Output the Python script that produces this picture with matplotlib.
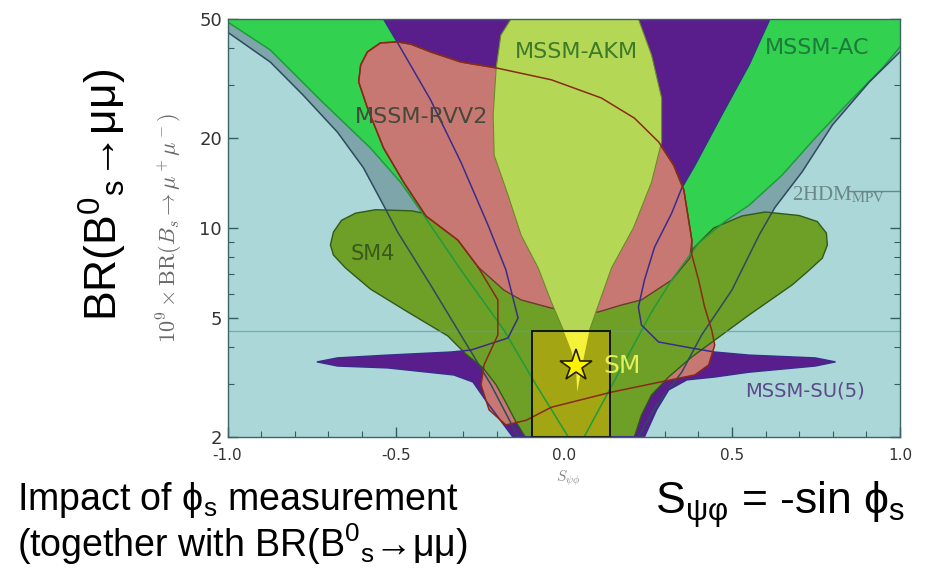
"""Bs -> mu mu vs S_psiphi model regions (Straub-style plot)"""
import matplotlib.pyplot as plt
from matplotlib.patches import Rectangle

plt.rcParams['mathtext.fontset'] = 'custom'
plt.rcParams['mathtext.rm'] = 'Liberation Sans'
plt.rcParams['mathtext.it'] = 'Liberation Sans:italic'
plt.rcParams['mathtext.bf'] = 'Liberation Sans:bold'

# ---- data: region boundaries (S_psiphi, 1e9 x BR) ----
# 2HDM_MPV outer curves
hdm_left_s = [-1.0, -0.873, -0.775, -0.673, -0.596, -0.536, -0.494, -0.396, -0.306, -0.216, -0.136]
hdm_left_br = [45.2, 35.9, 27.8, 20.9, 15.9, 11.9, 9.68, 6.44, 4.38, 2.98, 2.0]
hdm_right_s = [0.222, 0.276, 0.351, 0.410, 0.500, 0.581, 0.628, 0.709, 0.799, 0.909, 1.0]
hdm_right_br = [2.0, 2.55, 3.29, 4.38, 6.19, 9.46, 11.7, 15.4, 22.1, 30.8, 38.8]

# MSSM-AC edges
ac_left_s = [-1.0, -0.873, -0.724, -0.575, -0.485, -0.416, -0.306, -0.178, -0.082, 0.013]
ac_left_br = [48.9, 39.4, 26.8, 18.5, 14.2, 11.0, 7.23, 4.55, 2.98, 2.0]
ac_right_s = [0.061, 0.160, 0.261, 0.321, 0.401, 0.479, 0.551, 0.649, 0.748, 0.849, 0.948, 1.0]
ac_right_br = [2.0, 3.22, 5.23, 6.69, 8.90, 10.5, 11.9, 15.0, 20.0, 26.4, 34.3, 40.3]

# MSSM-SU(5) (V plus horizontal spike)
su5_s = [-0.536, -0.494, -0.396, -0.306, -0.225, -0.172, -0.148, -0.136, -0.166, -0.276, -0.336,
         -0.524, -0.673, -0.733, -0.673, -0.524, -0.327, -0.270, -0.222, -0.178, -0.152,
         0.240, 0.276, 0.312, 0.366, 0.449, 0.551, 0.748, 0.807, 0.748, 0.551, 0.449, 0.381,
         0.282, 0.231, 0.222, 0.240, 0.270, 0.321, 0.351, 0.390, 0.470, 0.551, 0.613]
su5_br = [50, 41.6, 26.8, 16.6, 10.2, 7.23, 5.65, 4.99, 4.28, 3.90, 3.84,
          3.75, 3.67, 3.56, 3.45, 3.40, 3.22, 3.05, 2.55, 2.19, 2.0,
          2.0, 2.46, 2.87, 3.10, 3.17, 3.29, 3.45, 3.56, 3.67, 3.75, 3.84, 3.96,
          4.15, 4.73, 5.43, 6.69, 8.62, 11.2, 13.6, 16.2, 23.9, 35.1, 50]

# MSSM-RVV2 outer contour and filled core
rvv2_out_s = [-0.255, -0.196, -0.196, -0.237, -0.246, -0.222, -0.172, -0.112, -0.037, 0.142,
              0.318, 0.390, 0.431, 0.449, 0.440, 0.419, 0.401, 0.381, 0.381, 0.357, 0.327,
              0.282, 0.210, 0.112, -0.037, -0.201, -0.306, -0.396, -0.455, -0.494, -0.545,
              -0.584, -0.604, -0.610, -0.584, -0.536, -0.476, -0.410, -0.315]
rvv2_out_br = [7.40, 5.74, 4.38, 3.48, 2.98, 2.46, 2.19, 2.27, 2.51, 2.82,
               3.10, 3.22, 3.48, 4.05, 4.55, 5.43, 6.69, 8.11, 9.10, 13.4, 16.2,
               19.4, 23.3, 27.2, 31.3, 34.3, 35.9, 38.8, 41.2, 41.9, 41.6,
               38.8, 35.1, 30.8, 25.2, 18.5, 14.2, 10.96, 9.10]
rvv2_s = [-0.494, -0.545, -0.584, -0.604, -0.610, -0.584, -0.536, -0.476, -0.410, -0.315,
          -0.255, -0.178, -0.127, -0.037, 0.037, 0.103, 0.172, 0.231, 0.321, 0.375, 0.381,
          0.357, 0.327, 0.282, 0.210, 0.112, -0.037, -0.201, -0.306, -0.396, -0.455]
rvv2_br = [41.9, 41.6, 38.8, 35.1, 30.8, 25.2, 18.5, 14.2, 10.96, 9.10,
           7.40, 6.19, 5.74, 5.39, 5.23, 5.23, 5.52, 5.74, 6.69, 7.92, 9.10,
           13.4, 16.2, 19.4, 23.3, 27.2, 31.3, 34.3, 35.9, 38.8, 41.2]

# SM4 (two lobes joined at the bottom)
sm4_s = [-0.694, -0.685, -0.661, -0.619, -0.560, -0.452, -0.366, -0.291, -0.246, -0.037, 0.172,
         0.381, 0.401, 0.446, 0.530, 0.599, 0.700, 0.754, 0.781, 0.784, 0.769, 0.724, 0.679,
         0.551, 0.449, 0.381, 0.312, 0.261, 0.231, 0.210, -0.115, -0.142, -0.172, -0.201,
         -0.240, -0.291, -0.345, -0.464, -0.575, -0.649, -0.685]
sm4_br = [8.76, 9.68, 10.6, 11.2, 11.5, 11.4, 10.9, 9.99, 8.76, 7.68, 7.68,
          8.43, 8.90, 9.99, 10.96, 11.3, 11.0, 10.5, 9.61, 8.76, 7.92, 7.12, 6.44,
          5.11, 4.21, 3.70, 3.17, 2.76, 2.36, 2.0, 2.0, 2.24, 2.60, 2.98,
          3.40, 3.78, 4.35, 5.23, 6.24, 7.34, 8.11]

# MSSM-AKM
akm_s = [-0.157, -0.187, -0.201, -0.210, -0.207, -0.166, -0.127, -0.076, -0.037, 0.001, 0.022,
         0.037, 0.040, 0.052, 0.076, 0.103, 0.142, 0.207, 0.261, 0.291, 0.291, 0.261, 0.222]
akm_br = [50, 44.2, 34.3, 23.9, 17.5, 12.9, 9.46, 7.34, 5.65, 4.48, 3.90,
          3.34, 2.82, 3.34, 4.52, 5.52, 7.34, 9.99, 14.2, 19.4, 27.2, 37.9, 50]

# measurement box, experimental bound and SM point
box_s = [-0.094, 0.139]
box_br = [2.0, 4.5]
br_limit = 4.5
sm_point = (0.037, 3.45)

xticks = [-1.0, -0.5, 0.0, 0.5, 1.0]
xticklabels = ['-1.0', '-0.5', '0.0', '0.5', '1.0']
xminor = [-0.9, -0.8, -0.7, -0.6, -0.4, -0.3, -0.2, -0.1, 0.1, 0.2, 0.3, 0.4, 0.6, 0.7, 0.8, 0.9]
yticks = [2, 5, 10, 20, 50]
yticklabels = ['2', '5', '10', '20', '50']
yminor = [3, 4, 6, 7, 8, 9, 30, 40]

fig = plt.figure(figsize=(9.34, 5.83), dpi=100)
ax = fig.add_axes([0.2436, 0.2509, 0.72, 0.7165])
ax.set_facecolor('#acd7d8')
ax.set_yscale('log')
ax.set_xlim(-1, 1)
ax.set_ylim(2, 50)

# filled regions, bottom to top
ax.fill(hdm_left_s + hdm_right_s + [1.0, -1.0], hdm_left_br + hdm_right_br + [50, 50],
        color='#7da5aa', lw=0, zorder=2)
ax.fill([-1.0] + ac_left_s + ac_right_s + [1.0], [50] + ac_left_br + ac_right_br + [50],
        color='#32d250', lw=0, zorder=3)
ax.fill(su5_s, su5_br, color='#5a1e8c', lw=0, zorder=4)
ax.fill(rvv2_out_s, rvv2_out_br, color='#c87873', lw=0, zorder=5)
ax.fill(sm4_s, sm4_br, facecolor='#6ea028', edgecolor='#2f5a1a', lw=1.0, zorder=6)
ax.fill(rvv2_s, rvv2_br, facecolor='#c87873', edgecolor='#6b3b2b', lw=1.0, zorder=7)
ax.fill(akm_s, akm_br, facecolor='#b4d855', edgecolor='#6a8a2a', lw=0.8, zorder=8)

box = Rectangle((box_s[0], box_br[0]), box_s[1] - box_s[0], box_br[1] - box_br[0],
                facecolor='#a3a512', edgecolor='none', zorder=9)
ax.add_patch(box)
tip = ax.fill(akm_s, akm_br, color='#f6f23c', lw=0, zorder=9.5)[0]
tip.set_clip_path(box)
ax.axhline(br_limit, color='#5aa0a0', lw=1.0, alpha=0.7, zorder=9.6)

# contour lines drawn over the fills
ax.plot(ac_left_s, ac_left_br, color='#1f9a3c', lw=1.1, zorder=10)
ax.plot(ac_right_s, ac_right_br, color='#1f9a3c', lw=1.1, zorder=10)
ax.plot(hdm_left_s, hdm_left_br, color='#2e4a5e', lw=1.1, zorder=10)
ax.plot(hdm_right_s, hdm_right_br, color='#2e4a5e', lw=1.1, zorder=10)
ax.plot(su5_s + su5_s[:1], su5_br + su5_br[:1], color='#3a2c8c', lw=1.1, zorder=10)
ax.plot(rvv2_out_s + rvv2_out_s[:1], rvv2_out_br + rvv2_out_br[:1], color='#8a2a15', lw=1.1, zorder=10)

ax.add_patch(Rectangle((box_s[0], box_br[0]), box_s[1] - box_s[0], box_br[1] - box_br[0],
                       fill=False, edgecolor='#151500', lw=1.4, zorder=11))
ax.plot(*sm_point, marker='*', ms=24, mfc='#fff200', mec='#202000', mew=1.2, zorder=12)

# region labels
ax.text(0.037, 38.8, 'MSSM-AKM', color='#3d7a2a', fontsize=16, ha='center', va='center', zorder=13)
ax.text(0.754, 40.0, 'MSSM-AC', color='#1e7a3a', fontsize=16, ha='center', va='center', zorder=13)
ax.text(-0.422, 23.5, 'MSSM-RVV2', color='#45483a', fontsize=16, ha='center', va='center', zorder=13)
ax.text(-0.569, 8.2, 'SM4', color='#3a5a1a', fontsize=15, ha='center', va='center', zorder=13)
ax.text(0.539, 2.85, 'MSSM-SU(5)', color='#5a4a8a', fontsize=14, ha='left', va='center', zorder=13)
ax.text(0.118, 3.45, 'SM', color='#e6ee5a', fontsize=18, ha='left', va='center', zorder=13)
ax.text(0.679, 12.9, r'2HDM$_{\mathrm{MPV}}$', color='#6a8888', fontsize=15, ha='left',
        va='center', family='Liberation Serif', math_fontfamily='stix', zorder=13)
ax.plot([0.849, 1.0], [13.3, 13.3], color='#6a8888', lw=1.0, zorder=13)

# axes styling
ax.set_xticks(xticks, labels=xticklabels)
ax.set_xticks(xminor, labels=[''] * len(xminor), minor=True)
ax.set_yticks(yticks, labels=yticklabels)
ax.set_yticks(yminor, labels=[''] * len(yminor), minor=True)
ax.tick_params(axis='both', which='both', direction='in', colors='#2f5f5f',
               labelcolor='#333333', top=False, right=True)
ax.tick_params(axis='both', which='major', length=7, width=1)
ax.tick_params(axis='both', which='minor', length=4, width=0.8)
ax.tick_params(axis='x', labelsize=11, pad=8)
ax.tick_params(axis='y', labelsize=13, pad=4)
for sp in ax.spines.values():
    sp.set_color('#3f6363')
    sp.set_linewidth(1.0)
    sp.set_zorder(14)

# axis titles
fig.text(0.182, 0.609, r'$10^9 \times \mathrm{BR}(B_s \to \mu^+\mu^-)$', rotation=90,
         fontsize=16, color='#6a6a6a', ha='center', va='center', math_fontfamily='cm')
fig.text(0.608, 0.180, r'$S_{\psi\phi}$', fontsize=11, color='#8a8a8a',
         ha='center', va='center', math_fontfamily='cm')
sans = ['Liberation Sans', 'DejaVu Sans']
fig.text(0.110, 0.6655, r'BR(B$^{0}$$_{\mathrm{s}}$→μμ)', rotation=90, fontsize=32,
         ha='center', va='center', family=sans)
fig.text(0.018, 0.142, r'Impact of ϕ$_{\mathrm{s}}$ measurement', fontsize=27,
         ha='left', va='center', family=sans)
fig.text(0.018, 0.066, r'(together with BR(B$^{0}$$_{\mathrm{s}}$→μμ)', fontsize=27,
         ha='left', va='center', family=sans)
fig.text(0.835, 0.135, r'S$_{\mathrm{ψφ}}$ = -sin ϕ$_{\mathrm{s}}$', fontsize=32,
         ha='center', va='center', family=sans)

fig.savefig('out.png', dpi=100)
